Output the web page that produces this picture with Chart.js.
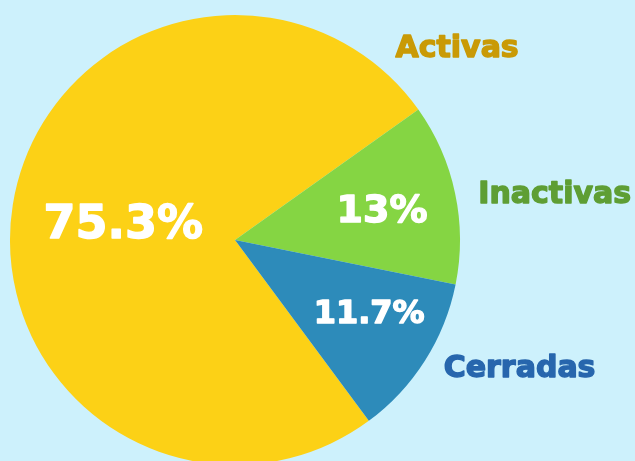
<!DOCTYPE html>
<html lang="es">
<head>
  <meta charset="UTF-8">
  <title>Estado de cuentas</title>
  <script src="https://cdn.jsdelivr.net/npm/chart.js"></script>
  <style>
    html, body {
      margin: 0;
      padding: 0;
      background-color: #cdf1fc;
      overflow: hidden;
    }
    #chartBox {
      width: 635px;
      height: 470px;
    }
  </style>
</head>
<body>
<div id="chartBox">
  <canvas id="pieChart"></canvas>
</div>

<script>
  // datos
  const categories = ['Activas', 'Inactivas', 'Cerradas'];
  const values = [75.3, 13, 11.7];
  const valueLabels = ['75.3%', '13%', '11.7%'];

  const sliceColors = ['#fcd116', '#85d543', '#2d8bba'];
  const nameColors = ['#c99a06', '#5e9e34', '#2766ad'];

  // posición de los textos (ángulo en grados, radio relativo)
  const innerPos = [[187.1, 0.50, 46], [-10.8, 0.665, 38], [29.2, 0.683, 32]];
  const outerPos = [[-40.6, 1.30], [-8.0, 1.435], [24.5, 1.39]];

  // texto con un poco de contorno para que se vea más grueso
  function boldText(ctx, text, x, y, color) {
    ctx.fillStyle = color;
    ctx.strokeStyle = color;
    ctx.lineWidth = 1.4;
    ctx.lineJoin = 'round';
    ctx.strokeText(text, x, y);
    ctx.fillText(text, x, y);
  }

  const labelPlugin = {
    id: 'sliceLabels',
    afterDatasetsDraw(chart) {
      const ctx = chart.ctx;
      const arcs = chart.getDatasetMeta(0).data;
      ctx.save();
      ctx.textAlign = 'center';
      ctx.textBaseline = 'middle';
      arcs.forEach((arc, i) => {
        const { x, y, outerRadius } = arc.getProps(['x', 'y', 'outerRadius'], true);
        const [a1, f1, size] = innerPos[i];
        const r1 = a1 * Math.PI / 180;
        ctx.font = 'bold ' + size + 'px "DejaVu Sans", sans-serif';
        boldText(ctx, valueLabels[i], x + Math.cos(r1) * outerRadius * f1, y + Math.sin(r1) * outerRadius * f1, '#ffffff');

        const [a2, f2] = outerPos[i];
        const r2 = a2 * Math.PI / 180;
        ctx.font = 'bold 30px "DejaVu Sans", sans-serif';
        boldText(ctx, categories[i], x + Math.cos(r2) * outerRadius * f2, y + Math.sin(r2) * outerRadius * f2, nameColors[i]);
      });
      ctx.restore();
    }
  };

  new Chart(document.getElementById('pieChart'), {
    type: 'pie',
    data: {
      labels: categories,
      datasets: [{
        data: values,
        backgroundColor: sliceColors,
        borderWidth: 0
      }]
    },
    options: {
      responsive: true,
      maintainAspectRatio: false,
      animation: false,
      rotation: 143.5,
      layout: { padding: { left: 10, top: 15, right: 175, bottom: 5 } },
      plugins: {
        legend: { display: false },
        tooltip: { enabled: false }
      }
    },
    plugins: [labelPlugin]
  });
</script>
</body>
</html>
